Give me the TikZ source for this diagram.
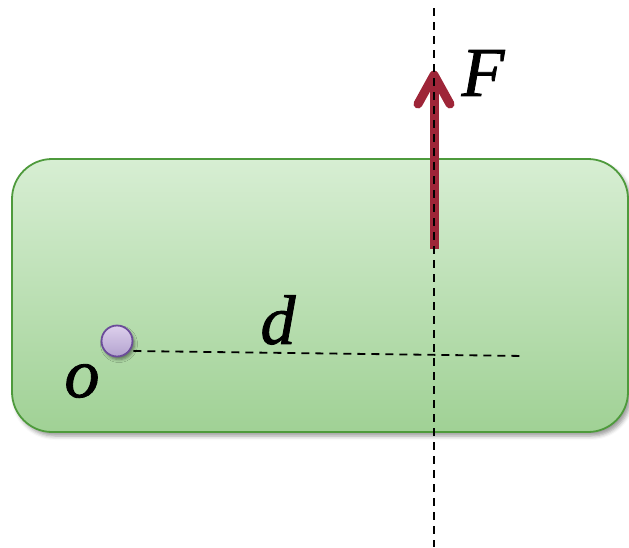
\documentclass[tikz,border=0pt]{standalone}
\usepackage{fontspec}
\setmainfont{Liberation Serif}
\newfontfamily\lblfont[FakeBold=1.2]{Liberation Serif Italic}
\usetikzlibrary{shadows.blur}
\definecolor{boxline}{HTML}{4E9A3C}
\definecolor{boxtop}{HTML}{D7EED3}
\definecolor{boxbot}{HTML}{A0D195}
\definecolor{forcered}{HTML}{9E2538}
\definecolor{ptline}{HTML}{6B4C9A}
\definecolor{pttop}{HTML}{DDD0EC}
\definecolor{ptbot}{HTML}{B3A2CF}
\tikzset{
  body/.style={draw=boxline, line width=1.8pt, rounded corners=40pt,
    top color=boxtop, bottom color=boxbot,
    blur shadow={shadow xshift=3pt, shadow yshift=-4pt, shadow blur radius=4pt, shadow opacity=40}},
  guide/.style={dash pattern=on 8pt off 6pt, line width=1.8pt, black},
  force/.style={forcered, line width=9pt},
  pivot/.style={circle, draw=ptline, line width=1.8pt, minimum size=31pt, inner sep=0pt,
    top color=pttop, bottom color=ptbot,
    blur shadow={shadow xshift=2pt, shadow yshift=-3pt, shadow blur radius=3pt, shadow opacity=45}},
  lbl/.style={font=\lblfont\fontsize{70}{70}\selectfont, inner sep=0pt}
}
\begin{document}
\begin{tikzpicture}[x=1pt, y=-1pt]
\useasboundingbox (0,0) rectangle (629,547);
\draw[body] (12,159) rectangle (628,432);
% guide lines
\coordinate (vtop) at (434,8);
\coordinate (vbot) at (434,547);
\coordinate (hend) at (525,356);
\node[pivot] (o) at (117,341) {};
\draw[guide] (o.east |- 0,351) -- (hend);
% force arrow
\coordinate (fbase) at (434,249);
\coordinate (ftip) at (434,75);
\coordinate (fl) at (418,104);
\coordinate (fr) at (450,104);
\draw[force, line cap=butt] (fbase) -- (ftip);
\draw[force, line cap=round, line join=round] (fl) -- (ftip) -- (fr);
\draw[guide] (vtop) -- (vbot);
% labels
\node[lbl] (F) at (483,73) {F};
\node[lbl] (d) at (278,320) {d};
\node[lbl] (olab) at (82,381) {o};
\end{tikzpicture}
\end{document}
